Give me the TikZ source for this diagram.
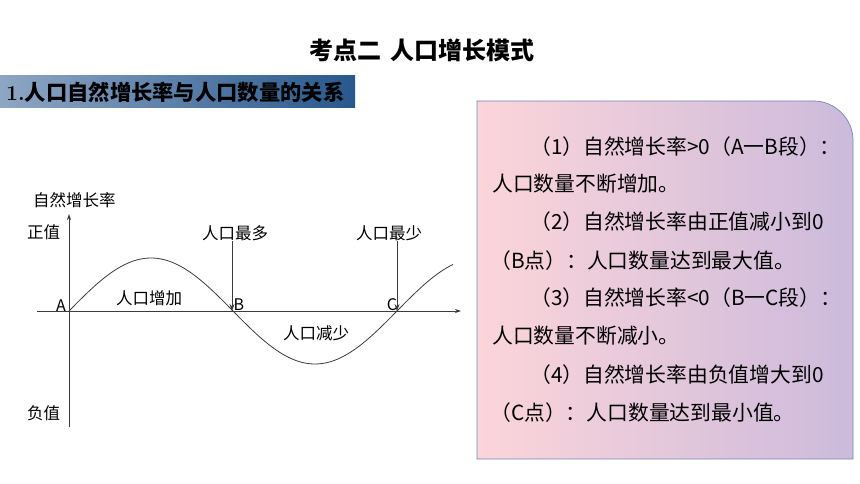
\documentclass[tikz,border=0pt]{standalone}
\usepackage{fontspec}
\setmainfont{Noto Sans CJK SC}
\usetikzlibrary{arrows.meta}
\definecolor{barleft}{RGB}{142,166,196}
\definecolor{barright}{RGB}{40,88,140}
\definecolor{boxleft}{RGB}{252,213,218}
\definecolor{boxright}{RGB}{204,186,220}
\definecolor{boxline}{RGB}{110,140,185}
\definecolor{axisgray}{RGB}{60,60,60}
\begin{document}
\begin{tikzpicture}[x=1pt,y=-1pt,
    axis/.style ={draw=axisgray, line width=0.8pt, -{Stealth[length=6pt,width=4pt]}},
    pointer/.style ={draw=axisgray, line width=0.7pt, -{Stealth[length=7pt,width=5pt]}},
    label/.style ={font=\fontsize{16.5}{18}\selectfont, inner sep=0pt},
    letter/.style ={font=\fontsize{16}{18}\selectfont, inner sep=0pt},
    boxtext/.style ={font=\fontsize{20.8}{24}\selectfont, anchor=west, inner sep=0pt}]
   \useasboundingbox (0,0) rectangle (860,484);
   % title and banner
   \node[font=\fontsize{24}{28}\selectfont\bfseries] (title) at (422,50) {考点二\hspace{9pt}人口增长模式};
   \shade[left color=barleft, right color=barright] (0,76) rectangle (355,108);
   \node[font=\fontsize{21.3}{24}\selectfont\bfseries, anchor=west, inner sep=0pt] (banner) at (6,92)
      {{\fontspec{Latin Modern Roman}\bfseries 1.}人口自然增长率与人口数量的关系};
   % graph
   \coordinate (A) at (69,311);
   \coordinate (B) at (232,311);
   \coordinate (C) at (397,311);
   \draw[axis] (69,427) -- (69,214);
   \draw[axis] (37,311) -- (461,311);
   \draw[axisgray, line width=0.8pt] plot[domain=69:453, samples=120, smooth]
      (\x, {311-53*sin((\x-69)/164*180)});
   \node[label, anchor=west] (rate) at (33,200) {自然增长率};
   \node[label, anchor=west] (pos) at (27,232) {正值};
   \node[label, anchor=west] (neg) at (27,413) {负值};
   \node[letter] (Alab) at (61,306) {A};
   \node[letter] (Blab) at (239,305) {B};
   \node[letter] (Clab) at (392,305) {C};
   \node[label] (grow) at (149,298) {人口增加};
   \node[label] (shrink) at (316,333) {人口减少};
   \node[label] (most) at (235,233) {人口最多};
   \node[label] (least) at (389,233) {人口最少};
   \draw[pointer] (most.south -| B) -- (B);
   \draw[pointer] (least.south -| C) -- (C);
   % text box
   \shade[left color=boxleft, right color=boxright]
      (477,459) -- (477,101) -- (814,101) .. controls (835,101) and (853,119) .. (853,140) -- (853,459) -- cycle;
   \draw[boxline, line width=0.7pt]
      (477,459) -- (477,101) -- (814,101) .. controls (835,101) and (853,119) .. (853,140) -- (853,459) -- cycle;
   \node[boxtext] (l1) at (530,147) {（1）自然增长率>0（A一B段）：};
   \node[boxtext] (l2) at (492,184) {人口数量不断增加。};
   \node[boxtext] (l3) at (530,222) {（2）自然增长率由正值减小到0};
   \node[boxtext] (l4) at (490,261) {（B点）：人口数量达到最大值。};
   \node[boxtext] (l5) at (530,298) {（3）自然增长率<0（B一C段）：};
   \node[boxtext] (l6) at (492,336) {人口数量不断减小。};
   \node[boxtext] (l7) at (530,375) {（4）自然增长率由负值增大到0};
   \node[boxtext] (l8) at (490,413) {（C点）：人口数量达到最小值。};
 \end{tikzpicture}
\end{document}
